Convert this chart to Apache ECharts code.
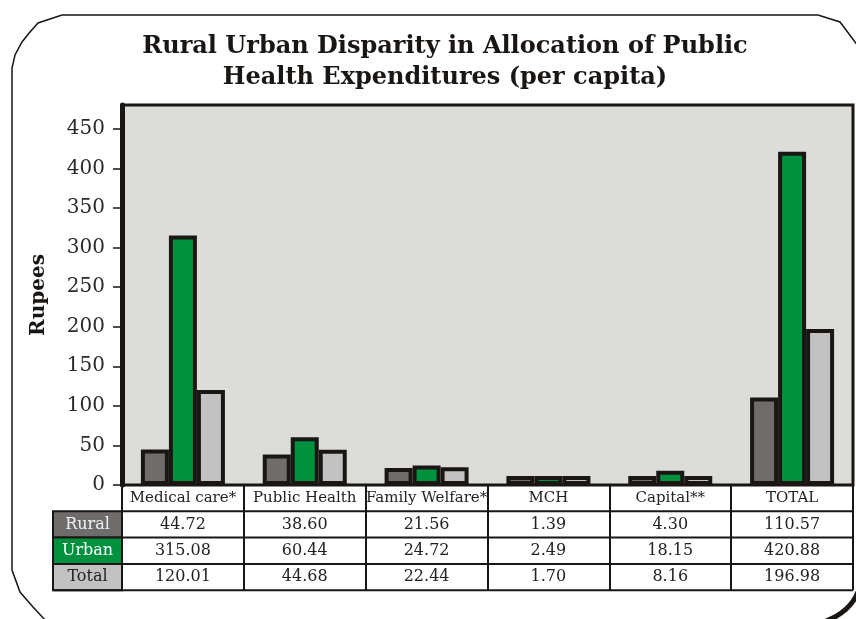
<!DOCTYPE html>
<html>
<head>
<meta charset="utf-8">
<title>Rural Urban Disparity</title>
<script src="https://cdn.jsdelivr.net/npm/echarts@6/dist/echarts.min.js"></script>
<style>
  html, body { margin: 0; padding: 0; background: #fff; }
  #chart { width: 856px; height: 619px; }
</style>
</head>
<body>
<div id="chart"></div>
<script>
// data
var categories = ['Medical care*', 'Public Health', 'Family Welfare*', 'MCH', 'Capital**', 'TOTAL'];
var rural = [44.72, 38.60, 21.56, 1.39, 4.30, 110.57];
var urban = [315.08, 60.44, 24.72, 2.49, 18.15, 420.88];
var total = [120.01, 44.68, 22.44, 1.70, 8.16, 196.98];
var seriesNames = ['Rural', 'Urban', 'Total'];
var yTicks = [0, 50, 100, 150, 200, 250, 300, 350, 400, 450];

var colors = ['#6f6d6b', '#00913e', '#c2c2c2'];
var labelColors = ['#f2f2f2', '#ffffff', '#222222'];
var serif = 'DejaVu Serif';

// layout of the grid + table under it
var W = 856, H = 619;
var gLeft = 122, gRight = 853, gTop = 105, gBottom = 485;
var rowH = 26.3;
var legLeft = 53;

var chart = echarts.init(document.getElementById('chart'));

function frameLine(type, shape, w) {
  return { type: type, z: 1, shape: shape, style: { stroke: '#1a1614', lineWidth: w || 1.5, fill: null } };
}

function buildTable() {
  var els = [];
  var rows = [rural, urban, total];
  var cw = (gRight - gLeft) / categories.length;
  for (var r = 0; r < rows.length; r++) {
    var y0 = gBottom + rowH * (r + 1);
    // legend cell
    els.push({
      type: 'rect', z: 5,
      shape: { x: legLeft, y: y0, width: gLeft - legLeft, height: rowH },
      style: { fill: colors[r], stroke: '#1a1614', lineWidth: 2 }
    });
    els.push({
      type: 'text', z: 6,
      x: (legLeft + gLeft) / 2, y: y0 + rowH / 2,
      style: { text: seriesNames[r], fill: labelColors[r], font: '16px ' + serif, align: 'center', verticalAlign: 'middle' }
    });
    // row line
    els.push({
      type: 'line', z: 5,
      shape: { x1: gLeft, y1: y0, x2: gRight, y2: y0 },
      style: { stroke: '#1a1614', lineWidth: 2 }
    });
    for (var c = 0; c < categories.length; c++) {
      els.push({
        type: 'text', z: 6,
        x: gLeft + cw * (c + 0.5), y: y0 + rowH / 2,
        style: { text: rows[r][c].toFixed(2), fill: '#222', font: '16px ' + serif, align: 'center', verticalAlign: 'middle' }
      });
    }
  }
  var yEnd = gBottom + rowH * 4;
  els.push({
    type: 'line', z: 5,
    shape: { x1: legLeft, y1: yEnd, x2: gRight, y2: yEnd },
    style: { stroke: '#1a1614', lineWidth: 2 }
  });
  // outer frame with cut corners
  els.push(frameLine('polyline', { points: [[858, 46], [840, 22], [818, 15], [62, 15], [38, 23], [30, 32], [22, 42], [15, 55], [12, 68], [12, 570], [20, 592], [33, 607], [46, 621]] }));
  els.push(frameLine('bezierCurve', { x1: 858, y1: 592, cpx1: 850, cpy1: 612, x2: 826, y2: 621 }, 5));
  return els;
}

function makeSeries(i, data) {
  return {
    name: seriesNames[i],
    type: 'bar',
    data: data,
    barWidth: 28,
    barGap: '0%',
    barMinHeight: 9,
    itemStyle: { color: colors[i], borderColor: '#1a1614', borderWidth: 4 }
  };
}

var option = {
  animation: false,
  title: {
    text: 'Rural Urban Disparity in Allocation of Public\nHealth Expenditures (per capita)',
    left: 440,
    textAlign: 'center',
    top: 26,
    textStyle: { fontFamily: serif, fontWeight: 'bold', fontSize: 24, color: '#1a1614', lineHeight: 31 }
  },
  grid: {
    left: gLeft, right: W - gRight, top: gTop, bottom: H - gBottom,
    show: true, backgroundColor: '#dcdcda', borderColor: '#1a1614', borderWidth: 3
  },
  xAxis: {
    type: 'category',
    data: categories,
    axisLine: { lineStyle: { color: '#1a1614', width: 2 } },
    axisTick: { show: true, length: rowH * 4, lineStyle: { color: '#1a1614', width: 2 } },
    axisLabel: { interval: 0, margin: 6, color: '#222', fontFamily: serif, fontSize: 15 }
  },
  yAxis: {
    type: 'value',
    min: 0,
    max: 480,
    interval: 50,
    name: 'Rupees',
    nameLocation: 'middle',
    nameRotate: 90,
    nameGap: 73,
    nameTextStyle: { fontFamily: serif, fontWeight: 'bold', fontSize: 20, color: '#1a1614' },
    axisLine: { show: true, lineStyle: { color: '#1a1614', width: 5 } },
    axisTick: { show: true, length: 9, customValues: yTicks, lineStyle: { color: '#1a1614', width: 1.5 } },
    axisLabel: { customValues: yTicks, margin: 17, color: '#2a2a2a', fontFamily: serif, fontSize: 20 },
    splitLine: { show: false }
  },
  series: [makeSeries(0, rural), makeSeries(1, urban), makeSeries(2, total)],
  graphic: buildTable()
};

chart.setOption(option);
window.addEventListener('resize', function () { chart.resize(); });
</script>
</body>
</html>
